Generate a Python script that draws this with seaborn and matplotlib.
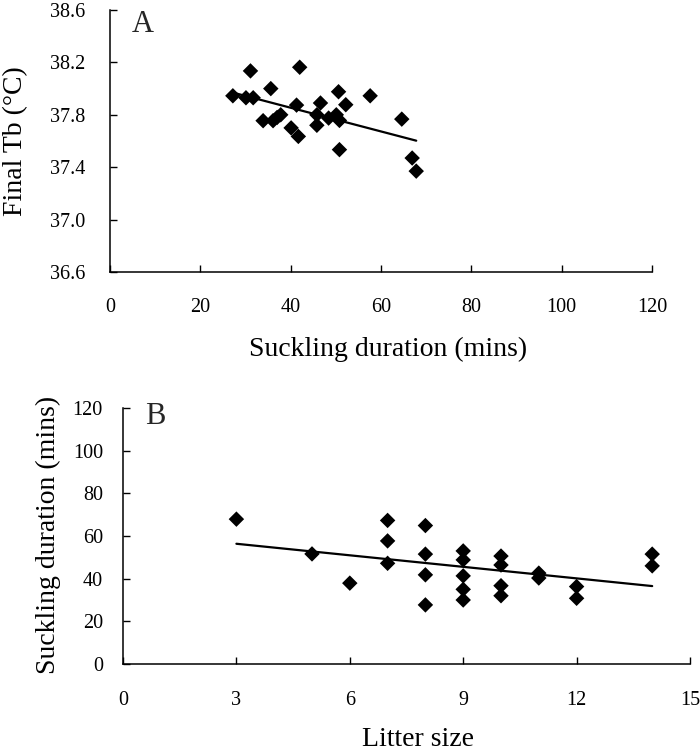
import matplotlib
matplotlib.use("Agg")
import matplotlib.pyplot as plt
import seaborn as sns
import numpy as np
import pandas as pd

# Panel A: suckling duration (mins) vs final Tb (°C)
a_duration = [27.2, 30.1, 31.7, 31.1, 35.6, 33.9, 36.1, 37.0, 37.8, 40.1, 41.3, 41.7, 42.0,
              45.8, 45.8, 46.6, 48.4, 50.1, 50.6, 50.8, 50.8, 52.2, 57.6, 64.6, 66.9, 67.8]
a_final_tb = [37.945, 37.93, 37.93, 38.135, 38.00, 37.755, 37.755, 37.78, 37.80, 37.70, 37.874,
              37.635, 38.163, 37.80, 37.72, 37.89, 37.775, 37.80, 37.976, 37.757, 37.534,
              37.877, 37.945, 37.767, 37.47, 37.37]

# Panel B: litter size vs suckling duration (mins)
b_litter = [3, 5, 6, 7, 7, 7, 8, 8, 8, 8, 9, 9, 9, 9, 9, 10, 10, 10, 10, 11, 11, 12, 12, 14, 14]
b_duration = [67.9, 51.6, 37.9, 67.3, 57.7, 47.2, 64.9, 51.5, 41.8, 27.7,
              53.0, 48.8, 41.3, 35.0, 30.0, 50.6, 46.4, 36.7, 32.0,
              42.6, 40.3, 36.3, 30.8, 51.5, 46.0]

a_xticks = [0, 20, 40, 60, 80, 100, 120]
a_yticks = [36.6, 37.0, 37.4, 37.8, 38.2, 38.6]
b_xticks = [0, 3, 6, 9, 12, 15]
b_yticks = [0, 20, 40, 60, 80, 100, 120]

sns.set_style("white")
plt.rcParams['font.family'] = ['Liberation Serif', 'DejaVu Serif']

dfa = pd.DataFrame({"dur": a_duration, "tb": a_final_tb})
dfb = pd.DataFrame({"litter": b_litter, "dur": b_duration})

fig = plt.figure(figsize=(7.0, 7.54), dpi=100)
W, H = 700, 754
axA = fig.add_axes([110 / W, 1 - 272 / H, (652 - 110) / W, (272 - 10) / H])
axB = fig.add_axes([123 / W, 1 - 664 / H, (690 - 123) / W, (664 - 408) / H])

sc_kw = dict(s=62, color="black", edgecolor="none", alpha=1.0, zorder=3)
ln_kw = dict(color="black", linewidth=1.6, zorder=2)

sns.regplot(data=dfa, x="dur", y="tb", ax=axA, marker="D", ci=None,
            scatter_kws=sc_kw, line_kws=ln_kw, truncate=True)
sns.regplot(data=dfb, x="litter", y="dur", ax=axB, marker="D", ci=None,
            scatter_kws=sc_kw, line_kws=ln_kw, truncate=True)

axA.set_xlim(0, 120)
axA.set_ylim(36.6, 38.6)
axA.set_xticks(a_xticks)
axA.set_yticks(a_yticks)
axA.set_yticklabels([f"{v:.1f}" for v in a_yticks])
axB.set_xlim(0, 15)
axB.set_ylim(0, 120)
axB.set_xticks(b_xticks)
axB.set_yticks(b_yticks)

for ax, xpad, ypad in [(axA, 18.5, 18.0), (axB, 19.5, 14.5)]:
    for side in ["top", "right"]:
        ax.spines[side].set_visible(False)
    for side in ["left", "bottom"]:
        ax.spines[side].set_color("black")
        ax.spines[side].set_linewidth(1.1)
    ax.tick_params(axis="x", direction="in", length=5, width=1.0, color="black",
                   bottom=True, top=False,
                   pad=xpad, labelsize=14.5, labelcolor="black")
    ax.tick_params(axis="y", direction="in", length=5, width=1.0, color="black",
                   left=True, right=False,
                   pad=ypad, labelsize=14.5, labelcolor="black")
    ax.grid(False)

axA.set_xlabel("Suckling duration (mins)", fontsize=20, color="black")
axA.xaxis.label.set_va("baseline")
axA.xaxis.set_label_coords(0.513, -0.321)
axA.set_ylabel("Final Tb (°C)", fontsize=20, color="black")
axA.yaxis.label.set_va("center")
axA.yaxis.set_label_coords(-0.175, 0.5)

axB.set_xlabel("Litter size", fontsize=20, color="black")
axB.xaxis.label.set_va("baseline")
axB.xaxis.set_label_coords(0.52, -0.322)
axB.set_ylabel("Suckling duration (mins)", fontsize=20, color="black")
axB.yaxis.label.set_va("center")
axB.yaxis.set_label_coords(-0.132, 0.504)

axA.text(0.06, 0.916, "A", transform=axA.transAxes, fontsize=22, ha="center", va="baseline")
axB.text(0.056, 0.9375, "B", transform=axB.transAxes, fontsize=22, ha="center", va="baseline")

fig.savefig("out.png", dpi=100, facecolor="white")
